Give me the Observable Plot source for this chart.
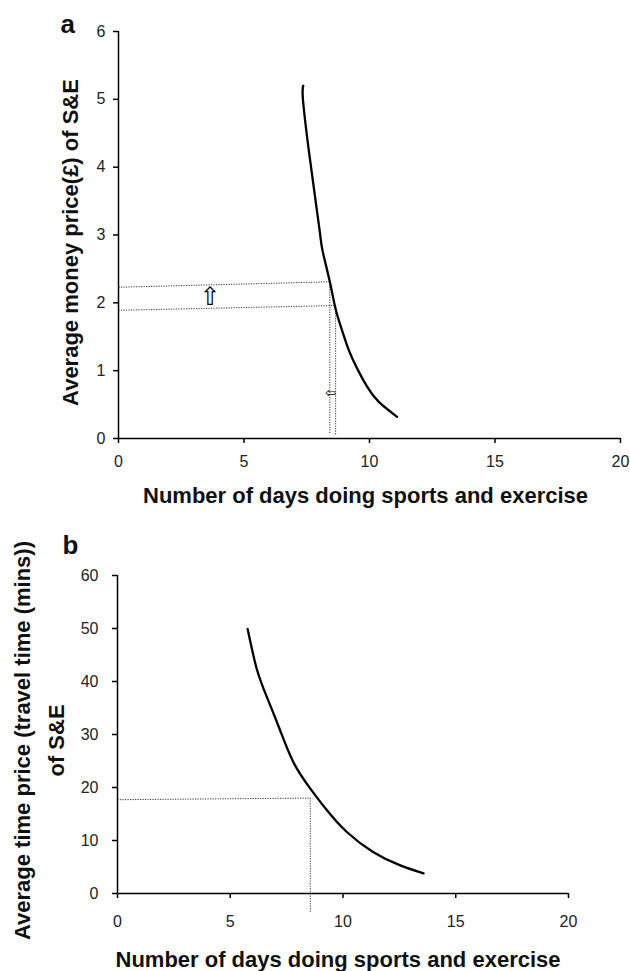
<!DOCTYPE html>
<html><head><meta charset="utf-8">
<script src="https://cdn.jsdelivr.net/npm/d3@7"></script>
<script src="https://cdn.jsdelivr.net/npm/@observablehq/plot@0.6"></script>
<style>
body{margin:0;background:#fff;}
#chart{width:630px;}
#chart svg{display:block;}
</style></head><body><div id="chart"></div>
<script>
// ---- data ----
const xTicks = [0, 5, 10, 15, 20];
const yTicksMoney = [0, 1, 2, 3, 4, 5, 6];
const yTicksTime = [0, 10, 20, 30, 40, 50, 60];
const moneyDays  = [7.36, 7.35, 7.58, 7.85, 8.03, 8.14, 8.42, 8.65, 8.91, 9.18, 9.51, 9.91, 10.37, 11.1];
const moneyPrice = [5.20, 4.99, 4.25, 3.51, 3.02, 2.75, 2.31, 1.91, 1.59, 1.30, 1.03, 0.76, 0.54, 0.32];
const timeDays  = [5.77, 6.18, 6.63, 7.21, 7.82, 8.55, 9.29, 10.17, 11.35, 12.54, 13.57];
const timePrice = [49.9, 42.3, 37.0, 30.8, 24.6, 19.8, 15.7, 11.6, 7.8, 5.3, 3.8];
const moneyGuides = [
  {x1: 0, y1: 2.23, x2: 8.42, y2: 2.31},
  {x1: 0, y1: 1.89, x2: 8.65, y2: 1.96},
  {x1: 8.42, y1: 2.31, x2: 8.42, y2: 0.07},
  {x1: 8.65, y1: 1.96, x2: 8.65, y2: 0.06}
];
const timeGuides = [
  {x1: 0, y1: 17.7, x2: 8.55, y2: 18.0},
  {x1: 8.55, y1: 18.0, x2: 8.55, y2: -3.5}
];
const upArrow = [{x: 3.64, y: 2.09, glyph: "⇧"}];
const leftArrow = [{x: 8.45, y: 0.67, glyph: "⇦"}];
const xLabel = "Number of days doing sports and exercise";
const moneyLabel = "Average money price(£) of S&E";
const timeLabel1 = "Average time price (travel time (mins))";
const timeLabel2 = "of S&E";
const panelA = "a", panelB = "b";

// ---- drawing ----
const font = "'Liberation Sans', Arial, Helvetica, sans-serif";
const moneyData = moneyDays.map((d, i) => ({days: d, price: moneyPrice[i]}));
const timeData = timeDays.map((d, i) => ({days: d, price: timePrice[i]}));
const dotted = {x1: "x1", y1: "y1", x2: "x2", y2: "y2", stroke: "#333", strokeWidth: 1, strokeDasharray: "1.2,1.3"};
const bold = {fontWeight: "bold", fill: "#111", fontSize: 22};
const fmt = d => String(d);

const plotA = Plot.plot({
  width: 630, height: 515,
  marginTop: 31, marginBottom: 77, marginLeft: 118, marginRight: 10,
  style: {fontFamily: font, fontSize: "16px", color: "#222", background: "#fff", overflow: "visible"},
  x: {domain: [0, 20]},
  y: {domain: [0, 6]},
  marks: [
    Plot.link(moneyGuides, dotted),
    Plot.line(moneyData, {x: "days", y: "price", stroke: "#000", strokeWidth: 2.3, curve: "natural"}),
    Plot.ruleX([0], {stroke: "#000", strokeWidth: 1.5}),
    Plot.ruleY([0], {stroke: "#000", strokeWidth: 1.5}),
    Plot.axisX({ticks: xTicks, tickFormat: fmt, tickSize: 5, tickPadding: 12, label: null, stroke: "#000", strokeWidth: 1.5}),
    Plot.axisY({ticks: yTicksMoney, tickFormat: fmt, tickSize: 5, tickPadding: 8, label: null, stroke: "#000", strokeWidth: 1.5}),
    Plot.text(upArrow, {x: "x", y: "y", text: "glyph", fontSize: 25, fontFamily: "DejaVu Sans", fill: "#000"}),
    Plot.text(leftArrow, {x: "x", y: "y", text: "glyph", fontSize: 13, fontFamily: "DejaVu Sans", fill: "#000"}),
    Plot.text([xLabel], {...bold, frameAnchor: "bottom", textAnchor: "middle", lineAnchor: "bottom", dy: 64, dx: -4}),
    Plot.text([moneyLabel], {...bold, frameAnchor: "left", textAnchor: "middle", lineAnchor: "bottom", rotate: -90, dx: -41, dy: 7.5}),
    Plot.text([panelA], {...bold, fontSize: 26, frameAnchor: "top-left", textAnchor: "start", lineAnchor: "bottom", dx: -58, dy: 1})
  ]
});

const plotB = Plot.plot({
  width: 630, height: 456,
  marginTop: 60, marginBottom: 78, marginLeft: 117, marginRight: 62,
  style: {fontFamily: font, fontSize: "16px", color: "#222", background: "#fff", overflow: "visible"},
  x: {domain: [0, 20]},
  y: {domain: [0, 60]},
  marks: [
    Plot.link(timeGuides, dotted),
    Plot.line(timeData, {x: "days", y: "price", stroke: "#000", strokeWidth: 2.3, curve: "natural"}),
    Plot.ruleX([0], {stroke: "#000", strokeWidth: 1.5}),
    Plot.ruleY([0], {stroke: "#000", strokeWidth: 1.5}),
    Plot.axisX({ticks: xTicks, tickFormat: fmt, tickSize: 5, tickPadding: 17, label: null, stroke: "#000", strokeWidth: 1.5}),
    Plot.axisY({ticks: yTicksTime, tickFormat: fmt, tickSize: 5, tickPadding: 14, label: null, stroke: "#000", strokeWidth: 1.5}),
    Plot.text([xLabel], {...bold, frameAnchor: "bottom", textAnchor: "middle", lineAnchor: "bottom", dy: 73, dx: -5}),
    Plot.text([timeLabel1], {...bold, frameAnchor: "left", textAnchor: "middle", lineAnchor: "bottom", rotate: -90, dx: -88, dy: 6}),
    Plot.text([timeLabel2], {...bold, frameAnchor: "left", textAnchor: "middle", lineAnchor: "bottom", rotate: -90, dx: -54, dy: 6}),
    Plot.text([panelB], {...bold, fontSize: 26, frameAnchor: "top-left", textAnchor: "start", lineAnchor: "bottom", dx: -55, dy: -22})
  ]
});

document.getElementById("chart").append(plotA, plotB);
</script>
</body></html>
